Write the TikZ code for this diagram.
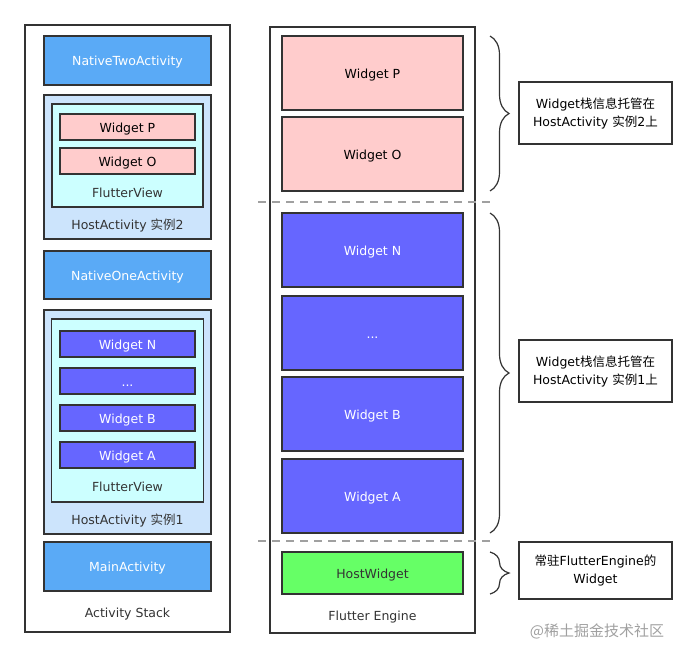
\documentclass[tikz,border=0pt]{standalone}
\usepackage{fontspec}
\setmainfont{DejaVu Sans}
\newfontfamily\cjk{Noto Sans CJK SC}
\usetikzlibrary{decorations.pathreplacing}

\begin{document}
\begin{tikzpicture}[x=1pt,y=-1pt,
  box/.style={draw=custcol_33_33_33, line width=1.6pt, inner sep=0, outer sep=0, text height=1em, text depth=0pt, font=\fontsize{12.5pt}{15pt}\selectfont},
  lbl/.style={inner sep=0, outer sep=0, text height=1em, text depth=0pt, text=custcol_33_33_33, font=\fontsize{12.5pt}{15pt}\selectfont},
  note/.style={draw=custcol_33_33_33, line width=1.4pt, inner sep=0, outer sep=0, align=center, text width=153, minimum height=62, font=\fontsize{12.5pt}{18pt}\selectfont},
  curly/.style={decorate, decoration={brace, amplitude=19pt}, line width=1.2pt, custcol_33_33_33},
  sep/.style={line width=2pt, custcol_99_99_99, dash pattern=on 8pt off 6pt}]
\useasboundingbox (0,0) rectangle (696,659);
\definecolor{custcol_33_33_33}{RGB}{51, 51, 51}
\definecolor{custcol_99_99_99}{RGB}{160, 160, 160}
\definecolor{custcol_5a_aa_f6}{RGB}{90, 170, 246}
\definecolor{custcol_cc_e5_ff}{RGB}{204, 228, 252}
\definecolor{custcol_cc_ff_ff}{RGB}{204, 255, 255}
\definecolor{custcol_ff_cc_cc}{RGB}{255, 204, 204}
\definecolor{custcol_66_66_ff}{RGB}{102, 102, 255}
\definecolor{custcol_66_ff_66}{RGB}{102, 255, 102}
% activity stack
\node[box, minimum width=205, minimum height=607] (stack) at (127.5,328.5) {};
\node[box, fill=custcol_5a_aa_f6, text=white, minimum width=167, minimum height=49] (nativeTwo) at (127.5,60.5) {NativeTwoActivity};
\node[box, fill=custcol_cc_e5_ff, minimum width=167, minimum height=144] (hostTwo) at (127.5,167) {};
\node[box, fill=custcol_cc_ff_ff, minimum width=151, minimum height=103] (viewTwo) at (127.5,155.5) {};
\node[box, fill=custcol_ff_cc_cc, minimum width=135, minimum height=26] (sP) at (127.5,127) {Widget P};
\node[box, fill=custcol_ff_cc_cc, minimum width=135, minimum height=26] (sO) at (127.5,161) {Widget O};
\node[lbl] (viewTwoLbl) at (127.5,192) {FlutterView};
\node[lbl] (hostTwoLbl) at (127.5,224) {HostActivity {\cjk 实例}2};
\node[box, fill=custcol_5a_aa_f6, text=white, minimum width=167, minimum height=48] (nativeOne) at (127.5,275) {NativeOneActivity};
\node[box, fill=custcol_cc_e5_ff, minimum width=167, minimum height=224] (hostOne) at (127.5,422) {};
\node[box, fill=custcol_cc_ff_ff, minimum width=152, minimum height=183] (viewOne) at (127.5,410.5) {};
\node[box, fill=custcol_66_66_ff, text=white, minimum width=135, minimum height=26] (sN) at (127.5,344) {Widget N};
\node[box, fill=custcol_66_66_ff, text=white, minimum width=135, minimum height=26] (sDots) at (127.5,381) {...};
\node[box, fill=custcol_66_66_ff, text=white, minimum width=135, minimum height=26] (sB) at (127.5,418) {Widget B};
\node[box, fill=custcol_66_66_ff, text=white, minimum width=135, minimum height=26] (sA) at (127.5,455) {Widget A};
\node[lbl] (viewOneLbl) at (127.5,486) {FlutterView};
\node[lbl] (hostOneLbl) at (127.5,519) {HostActivity {\cjk 实例}1};
\node[box, fill=custcol_5a_aa_f6, text=white, minimum width=167, minimum height=49] (main) at (127.5,566.5) {MainActivity};
\node[lbl] (stackLbl) at (127.5,612) {Activity Stack};
% flutter engine
\node[box, minimum width=205, minimum height=606] (engine) at (372.5,330) {};
\node[box, fill=custcol_ff_cc_cc, minimum width=181, minimum height=74] (eP) at (372.5,73) {Widget P};
\node[box, fill=custcol_ff_cc_cc, minimum width=181, minimum height=74] (eO) at (372.5,154) {Widget O};
\node[box, fill=custcol_66_66_ff, text=white, minimum width=181, minimum height=74] (eN) at (372.5,250) {Widget N};
\node[box, fill=custcol_66_66_ff, text=white, minimum width=181, minimum height=74] (eDots) at (372.5,333) {...};
\node[box, fill=custcol_66_66_ff, text=white, minimum width=181, minimum height=74] (eB) at (372.5,414) {Widget B};
\node[box, fill=custcol_66_66_ff, text=white, minimum width=181, minimum height=74] (eA) at (372.5,496) {Widget A};
\node[box, fill=custcol_66_ff_66, text=custcol_33_33_33, minimum width=181, minimum height=42] (hostW) at (372.5,573) {HostWidget};
\node[lbl] (engineLbl) at (372.5,615) {Flutter Engine};
\coordinate (sepOneL) at (258,202);
\coordinate (sepOneR) at (492,202);
\coordinate (sepTwoL) at (258,541);
\coordinate (sepTwoR) at (492,541);
\draw[sep] (sepOneL) -- (sepOneR);
\draw[sep] (sepTwoL) -- (sepTwoR);
% notes
\draw[curly] ([xshift=27]eP.north east) -- ([xshift=27]eO.south east);
\draw[curly] ([xshift=27]eN.north east) -- ([xshift=27]eA.south east);
\draw[curly] ([xshift=27]hostW.north east) -- ([xshift=27]hostW.south east);
\node[note] (noteTwo) at (595.5,113) {Widget{\cjk 栈信息托管在}\\HostActivity {\cjk 实例}2{\cjk 上}};
\node[note] (noteOne) at (595.5,371) {Widget{\cjk 栈信息托管在}\\HostActivity {\cjk 实例}1{\cjk 上}};
\node[note, minimum height=57] (noteHost) at (595.5,570.5) {{\cjk 常驻}FlutterEngine{\cjk 的}\\Widget};
\node[lbl, text=custcol_99_99_99, font=\cjk\fontsize{15pt}{15pt}\selectfont] (mark) at (597,631) {@稀土掘金技术社区};
\end{tikzpicture}
\end{document}
